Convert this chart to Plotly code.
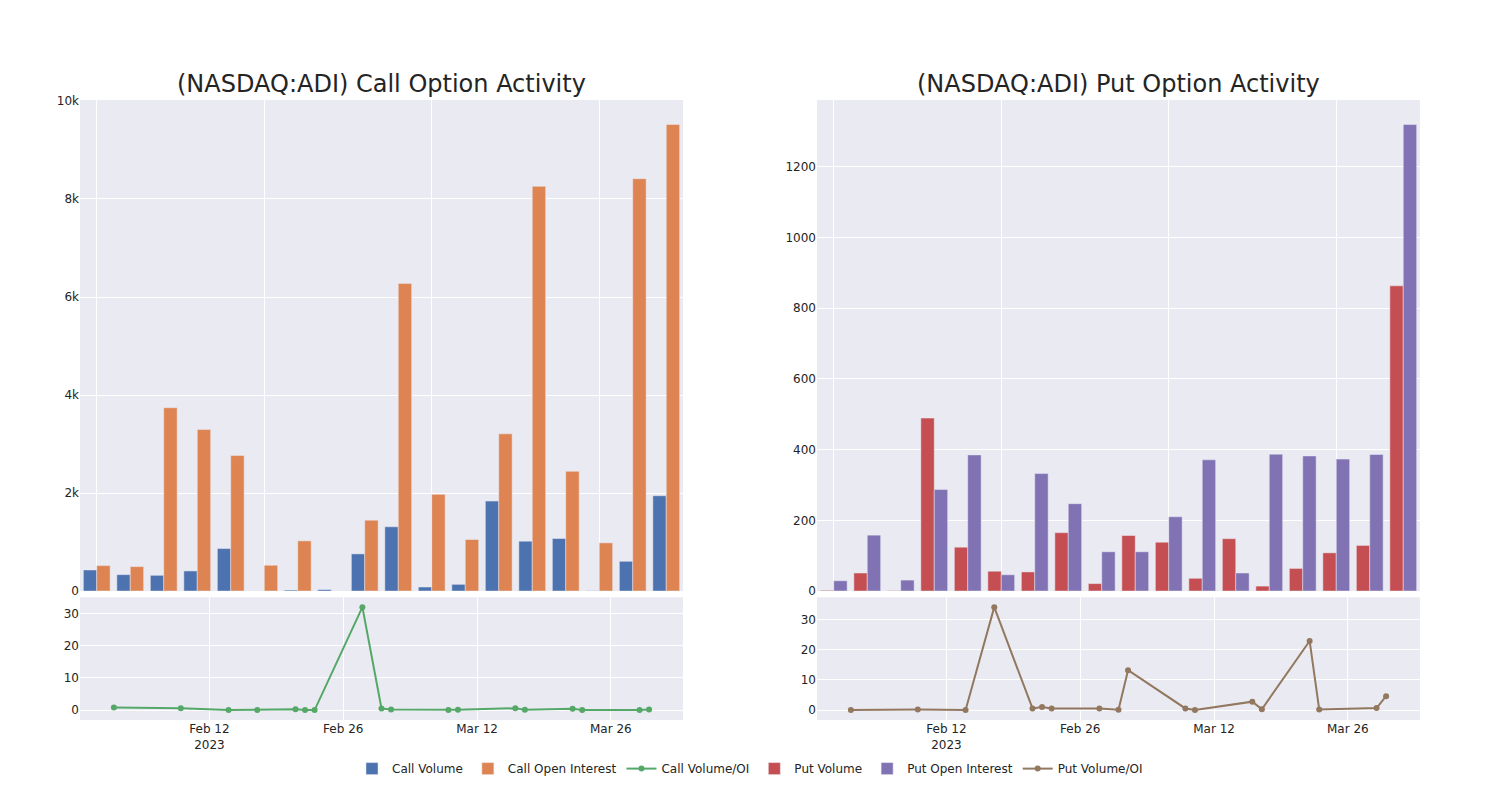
import plotly.graph_objects as go
from plotly.subplots import make_subplots

dates = ["2023-02-02", "2023-02-09", "2023-02-14", "2023-02-17", "2023-02-21", "2023-02-22",
         "2023-02-23", "2023-02-28", "2023-03-02", "2023-03-03", "2023-03-09", "2023-03-10",
         "2023-03-16", "2023-03-17", "2023-03-22", "2023-03-23", "2023-03-29", "2023-03-30"]

call_volume = [430, 334, 321, 410, 867, 0, 20, 30, 758, 1311, 82, 137, 1836, 1017, 1072, 5, 607, 1945]
call_oi = [519, 498, 3741, 3297, 2765, 526, 1024, 1, 1447, 6278, 1973, 1051, 3208, 8258, 2444, 983, 8414, 9519]
call_ratio = [0.8, 0.6, 0.0, 0.05, 0.3, 0.0, 0.0, 32.0, 0.5, 0.2, 0.04, 0.1, 0.6, 0.1, 0.4, 0.0, 0.07, 0.2]

put_volume = [2, 51, 1, 489, 124, 56, 54, 165, 21, 157, 138, 36, 148, 14, 64, 108, 129, 863]
put_oi = [29, 158, 31, 287, 385, 46, 332, 247, 111, 111, 210, 371, 51, 387, 382, 373, 386, 1319]
put_ratio = [0.0, 0.2, 0.0, 34.1, 0.55, 1.0, 0.55, 0.55, 0.1, 13.2, 0.55, 0.0, 2.8, 0.3, 22.9, 0.2, 0.66, 4.6]

titles = ["(NASDAQ:ADI) Call Option Activity", "(NASDAQ:ADI) Put Option Activity"]

fig = make_subplots(rows=2, cols=2, row_heights=[0.8, 0.2], vertical_spacing=0.01,
                    horizontal_spacing=0.1, subplot_titles=titles)

fig.add_trace(go.Bar(x=dates, y=call_volume, name="Call Volume"), row=1, col=1)
fig.add_trace(go.Bar(x=dates, y=call_oi, name="Call Open Interest"), row=1, col=1)
fig.add_trace(go.Scatter(x=dates, y=call_ratio, name="Call Volume/OI", mode="lines+markers"), row=2, col=1)
fig.add_trace(go.Bar(x=dates, y=put_volume, name="Put Volume"), row=1, col=2)
fig.add_trace(go.Bar(x=dates, y=put_oi, name="Put Open Interest"), row=1, col=2)
fig.add_trace(go.Scatter(x=dates, y=put_ratio, name="Put Volume/OI", mode="lines+markers"), row=2, col=2)

fig.update_xaxes(type="category", showticklabels=False, tickmode="linear", tick0=0, dtick=5, row=1)
fig.update_xaxes(type="date", tick0="2023-02-12", dtick=14 * 86400000, row=2)

for ann in fig.layout.annotations:
    ann.font.size = 24

fig.update_layout(
    template="seaborn",
    font=dict(family="DejaVu Sans"),
    width=1500, height=800,
    margin=dict(l=80, r=80, t=100, b=80),
    legend=dict(orientation="h", x=0.5, xanchor="center", y=-0.055, yanchor="top"),
)

fig.write_html("out.html")
